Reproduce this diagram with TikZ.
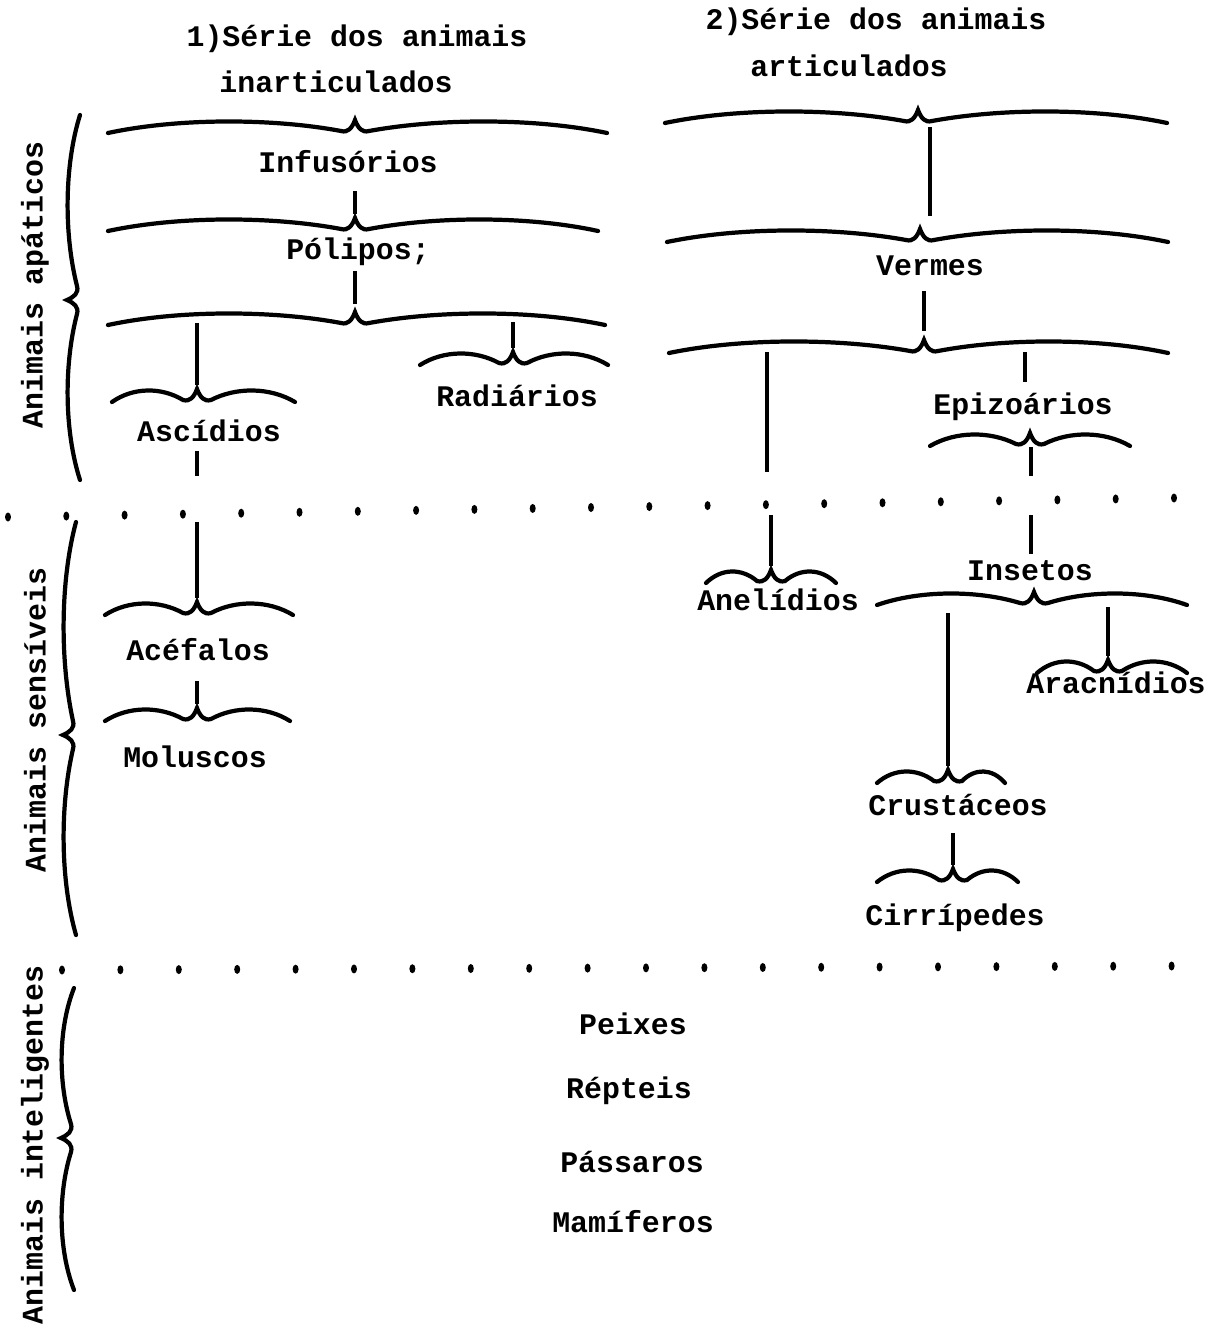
\documentclass[tikz,border=0pt]{standalone}
\usepackage{fontspec}
\setmainfont{Liberation Mono}
\usetikzlibrary{calc}

\tikzset{
  rotulo/.style={font=\fontsize{8.5}{10}\selectfont\bfseries, inner sep=0pt, anchor=base},
  lateral/.style={font=\fontsize{8.5}{10}\selectfont\bfseries, inner sep=0pt, rotate=90},
  chaveta/.style={line width=1.2pt, line cap=round},
  liga/.style={line width=1pt, shorten >=0.04cm}
}

% chave horizontal: nome, x esq., x da ponta, x dir., y
\newcommand{\chave}[5]{%
  \draw[chaveta] (#2,#5+7) .. controls ({#2+0.3*(#3-14-#2)},#5-8) and ({#3-14-0.3*(#3-14-#2)},#5-8) .. (#3-14,#5+5)
    .. controls (#3-7,#5+7) and (#3-3,#5+2) .. (#3,#5-6)
    .. controls (#3+3,#5+2) and (#3+7,#5+7) .. (#3+14,#5+5)
    .. controls ({#3+14+0.3*(#4-#3-14)},#5-8) and ({#4-0.3*(#4-#3-14)},#5-8) .. (#4,#5+7);
  \coordinate (#1) at (#3,#5-6);}
% chave vertical: nome, y cima, y da ponta, y baixo, x
\newcommand{\chavev}[5]{%
  \draw[chaveta] (#5+8,#2) .. controls (#5-8,{#2+0.3*(#3-14-#2)}) and (#5-8,{#3-14-0.3*(#3-14-#2)}) .. (#5+5,#3-14)
    .. controls (#5+7,#3-7) and (#5+2,#3-3) .. (#5-5,#3)
    .. controls (#5+2,#3+3) and (#5+7,#3+7) .. (#5+5,#3+14)
    .. controls (#5-8,{#3+14+0.3*(#4-#3-14)}) and (#5-8,{#4-0.3*(#4-#3-14)}) .. (#5+8,#4);
  \coordinate (#1) at (#5-5,#3);}

\begin{document}
\begin{tikzpicture}[x=0.01cm,y=-0.01cm]
\fill[white] (0,0) rectangle (1217,1327);
\useasboundingbox (0,0) rectangle (1217,1327);

% grupos laterais
\node[lateral] (apat) at (35,285) {Animais apáticos};
\node[lateral] (sens) at (35,720) {Animais sensíveis};
\node[lateral] (intel) at (35,1145) {Animais inteligentes};
\chavev{vA}{115}{300}{480}{72}
\chavev{vS}{522}{735}{935}{68}
\chavev{vI}{988}{1138}{1290}{66}

% pontilhados
\foreach \k in {0,...,20}
  \fill ({8+58.3*\k},{517-19*\k/20}) ellipse (3 and 4.5);
\foreach \k in {0,...,19}
  \fill ({62+58.4*\k},{970-4*\k/19}) ellipse (3 and 4.5);

% 1) inarticulados
\node[rotulo] (tit1) at (357,46) {1)Série dos animais};
\node[rotulo] (tit1b) at (336,92) {inarticulados};
\chave{cL1}{108}{355}{607}{126}
\node[rotulo] (infus) at (348,172) {Infusórios};
\chave{cL2}{108}{355}{598}{224}
\draw[liga, shorten <=0.18cm] (infus.south -| cL2) -- (cL2);
\node[rotulo] (polip) at (358,259) {Pólipos;};
\chave{cL3}{108}{355}{605}{318}
\draw[liga, shorten <=0.05cm, shorten >=0.08cm] (polip.south -| cL3) -- (cL3);
\coordinate (l3a) at (197,323);
\coordinate (l3b) at (513,322);
\chave{cRad}{420}{513}{608}{358}
\node[rotulo] (radi) at (517,406) {Radiários};
\draw[liga] (l3b) -- (cRad);
\chave{cAsc}{112}{197}{295}{395}
\node[rotulo] (ascid) at (209,441) {Ascídios};
\draw[liga] (l3a) -- (cAsc);
\coordinate (d1a) at (197,480);
\coordinate (d1b) at (197,522);
\draw[liga, shorten <=0.09cm] (ascid.south -| d1a) -- (d1a);
\chave{cAce}{105}{197}{293}{608}
\draw[liga] (d1b) -- (cAce);
\node[rotulo] (acef) at (198,660) {Acéfalos};
\chave{cMol}{105}{197}{290}{714}
\draw[liga, shorten <=0.2cm] (acef.south -| cMol) -- (cMol);
\node[rotulo] (molu) at (195,767) {Moluscos};

% 2) articulados
\node[rotulo] (tit2) at (876,30) {2)Série dos animais};
\node[rotulo] (tit2b) at (849,76) {articulados};
\chave{cR1}{665}{918}{1167}{116}
\chave{cR2}{667}{920}{1168}{235}
\coordinate (r1a) at (930,127);
\coordinate (r2a) at (930,220);
\draw[liga] (r1a) -- (r2a);
\node[rotulo] (verm) at (930,275) {Vermes};
\chave{cR3}{669}{924}{1168}{346}
\draw[liga, shorten <=0.15cm, shorten >=0.09cm] (verm.south -| cR3) -- (cR3);
\coordinate (r3a) at (767,352);
\coordinate (d2a) at (767,476);
\draw[liga] (r3a) -- (d2a);
\coordinate (r3b) at (1025,352);
\node[rotulo] (epiz) at (1023,414) {Epizoários};
\draw[liga, shorten >=0.1cm] (r3b) -- (epiz.north -| r3b);
\chave{cEpi}{930}{1030}{1130}{439}
\coordinate (e1a) at (1031,447);
\coordinate (d2b) at (1031,480);
\draw[liga] (e1a) -- (d2b);
\coordinate (d3a) at (1031,515);
\node[rotulo] (inset) at (1030,580) {Insetos};
\draw[liga, shorten >=0.05cm] (d3a) -- (inset.north -| d3a);
\coordinate (d3b) at (771,515);
\chave{cAne}{706}{771}{836}{576}
\draw[liga] (d3b) -- (cAne);
\node[rotulo] (aneli) at (778,610) {Anelídios};
\chave{cIns}{877}{1034}{1187}{598}
\coordinate (i1a) at (948,613);
\coordinate (i1b) at (1108,607);
\chave{cAra}{1037}{1108}{1187}{666}
\draw[liga] (i1b) -- (cAra);
\node[rotulo] (arac) at (1116,693) {Aracnídios};
\chave{cCru}{877}{948}{1005}{776}
\draw[liga] (i1a) -- (cCru);
\node[rotulo] (crus) at (958,815) {Crustáceos};
\chave{cCir}{877}{953}{1018}{875}
\draw[liga, shorten <=0.17cm] (crus.south -| cCir) -- (cCir);
\node[rotulo] (cirr) at (955,925) {Cirrípedes};

% inteligentes
\node[rotulo] (peix) at (633,1034) {Peixes};
\node[rotulo] (rept) at (629,1098) {Répteis};
\node[rotulo] (pass) at (632,1172) {Pássaros};
\node[rotulo] (mami) at (633,1232) {Mamíferos};
\end{tikzpicture}
\end{document}
